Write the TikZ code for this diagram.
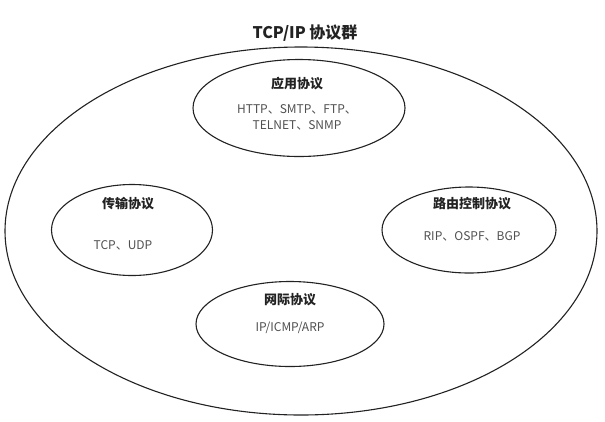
\documentclass[tikz,border=0pt]{standalone}
\usepackage{fontspec}
\setmainfont{Noto Sans CJK SC}
\usetikzlibrary{shapes.geometric}
\definecolor{ink}{HTML}{222222}
\definecolor{soft}{HTML}{505050}
\begin{document}
\begin{tikzpicture}[x=1pt,y=-1pt,
  ring/.style={draw=ink,line width=1.1pt,ellipse,inner sep=0pt},
  heading/.style={font=\fontsize{13}{15}\selectfont\bfseries,text=ink,inner sep=0pt},
  items/.style={font=\fontsize{12}{16}\selectfont,text=soft,inner sep=0pt,align=center}]
  \useasboundingbox[fill=white] (0,0) rectangle (605,421);
  % title and the enclosing family
  \node[font=\fontsize{16}{18}\selectfont\bfseries,text=ink,inner sep=0pt] (title) at (305,33) {TCP/IP 协议群};
  \node[ring,minimum width=592pt,minimum height=368pt] (suite) at (301,231) {};
  % application layer
  \node[ring,minimum width=212pt,minimum height=97pt] (app) at (299,108) {};
  \node[heading] (appT) at (297,84) {应用协议};
  \node[items] (appL) at (297,117) {HTTP、SMTP、FTP、\\TELNET、SNMP};
  % transport layer
  \node[ring,minimum width=161pt,minimum height=91pt] (trans) at (132,230) {};
  \node[heading] (transT) at (128,204) {传输协议};
  \node[items] (transL) at (123,245) {TCP、UDP};
  % routing
  \node[ring,minimum width=174pt,minimum height=86pt] (route) at (469,230) {};
  \node[heading] (routeT) at (472,204) {路由控制协议};
  \node[items] (routeL) at (472,236) {RIP、OSPF、BGP};
  % internet layer
  \node[ring,minimum width=188pt,minimum height=85pt] (net) at (290,324) {};
  \node[heading] (netT) at (290,300) {网际协议};
  \node[items] (netL) at (290,328) {IP/ICMP/ARP};
\end{tikzpicture}
\end{document}
